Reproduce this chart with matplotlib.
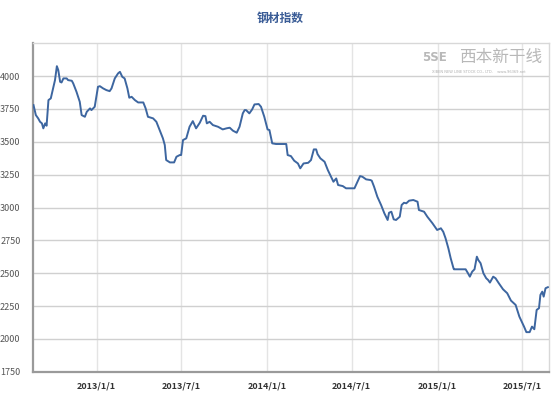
import matplotlib
matplotlib.use('Agg')
import matplotlib.pyplot as plt
import pandas as pd

plt.rcParams['font.family'] = ['Noto Sans CJK SC', 'DejaVu Sans']

# 钢材指数 values
dates = [
    '2012-08-19', '2012-08-24', '2012-08-29', '2012-09-02', '2012-09-06', '2012-09-09',
    '2012-09-13', '2012-09-16', '2012-09-20', '2012-09-25', '2012-09-30', '2012-10-04',
    '2012-10-08', '2012-10-11', '2012-10-15', '2012-10-18', '2012-10-22', '2012-10-29',
    '2012-11-01', '2012-11-09', '2012-11-12', '2012-11-19', '2012-11-26', '2012-11-30',
    '2012-12-07', '2012-12-11', '2012-12-18', '2012-12-21', '2012-12-28', '2013-01-04',
    '2013-01-08', '2013-01-15', '2013-01-22', '2013-01-29', '2013-02-02', '2013-02-09',
    '2013-02-16', '2013-02-20', '2013-02-25', '2013-03-02', '2013-03-08', '2013-03-12',
    '2013-03-17', '2013-03-24', '2013-03-31', '2013-04-11', '2013-04-16', '2013-04-21',
    '2013-05-02', '2013-05-09', '2013-05-16', '2013-05-23', '2013-05-27', '2013-05-30',
    '2013-06-07', '2013-06-16', '2013-06-21', '2013-06-28', '2013-07-01', '2013-07-05',
    '2013-07-12', '2013-07-19', '2013-07-26', '2013-08-02', '2013-08-10', '2013-08-17',
    '2013-08-22', '2013-08-25', '2013-08-31', '2013-09-07', '2013-09-18', '2013-09-28',
    '2013-10-06', '2013-10-13', '2013-10-20', '2013-10-28', '2013-11-03', '2013-11-10',
    '2013-11-14', '2013-11-17', '2013-11-24', '2013-11-30', '2013-12-05', '2013-12-14',
    '2013-12-19', '2013-12-26', '2014-01-02', '2014-01-06', '2014-01-12', '2014-01-20',
    '2014-02-11', '2014-02-14', '2014-02-21', '2014-02-28', '2014-03-08', '2014-03-13',
    '2014-03-20', '2014-03-30', '2014-04-05', '2014-04-11', '2014-04-16', '2014-04-19',
    '2014-04-25', '2014-05-04', '2014-05-11', '2014-05-18', '2014-05-23', '2014-05-29',
    '2014-06-02', '2014-06-12', '2014-06-19', '2014-07-07', '2014-07-12', '2014-07-19',
    '2014-07-24', '2014-08-01', '2014-08-10', '2014-08-13', '2014-08-18', '2014-08-25',
    '2014-09-02', '2014-09-09', '2014-09-16', '2014-09-19', '2014-09-24', '2014-09-29',
    '2014-10-04', '2014-10-12', '2014-10-16', '2014-10-21', '2014-10-26', '2014-11-01',
    '2014-11-10', '2014-11-19', '2014-11-22', '2014-12-03', '2014-12-10', '2014-12-21',
    '2014-12-31', '2015-01-08', '2015-01-13', '2015-01-18', '2015-01-24', '2015-01-29',
    '2015-02-04', '2015-02-05', '2015-03-02', '2015-03-07', '2015-03-11', '2015-03-16',
    '2015-03-21', '2015-03-26', '2015-03-29', '2015-04-03', '2015-04-09', '2015-04-15',
    '2015-04-19', '2015-04-23', '2015-04-30', '2015-05-05', '2015-05-12', '2015-05-21',
    '2015-05-30', '2015-06-07', '2015-06-17', '2015-06-25', '2015-07-05', '2015-07-10',
    '2015-07-17', '2015-07-22', '2015-07-27', '2015-08-01', '2015-08-06', '2015-08-09',
    '2015-08-13', '2015-08-16', '2015-08-20', '2015-08-25',
]
values = [
    3779, 3703, 3678, 3652, 3640, 3602,
    3640, 3622, 3817, 3830, 3906, 3969,
    4075, 4045, 3956, 3951, 3982, 3982,
    3969, 3964, 3944, 3880, 3804, 3703,
    3690, 3728, 3754, 3741, 3766, 3918,
    3923, 3906, 3893, 3885, 3906, 3982,
    4020, 4032, 3994, 3982, 3906, 3835,
    3842, 3817, 3799, 3799, 3754, 3690,
    3678, 3652, 3589, 3526, 3475, 3361,
    3343, 3343, 3386, 3399, 3399, 3513,
    3526, 3614, 3657, 3602, 3645, 3698,
    3695, 3640, 3652, 3627, 3614, 3594,
    3602, 3607, 3584, 3569, 3614, 3716,
    3741, 3741, 3716, 3746, 3784, 3787,
    3766, 3690, 3594, 3589, 3488, 3483,
    3483, 3399, 3391, 3356, 3335, 3298,
    3335, 3340, 3361, 3442, 3442, 3406,
    3374, 3348, 3285, 3234, 3196, 3221,
    3171, 3163, 3146, 3146, 3184, 3239,
    3234, 3214, 3209, 3204, 3158, 3082,
    3019, 2956, 2905, 2960, 2968, 2910,
    2905, 2930, 3019, 3036, 3032, 3052,
    3057, 3044, 2981, 2968, 2930, 2880,
    2829, 2842, 2816, 2766, 2690, 2614,
    2538, 2530, 2530, 2500, 2474, 2512,
    2530, 2626, 2601, 2576, 2500, 2462,
    2449, 2429, 2474, 2462, 2424, 2378,
    2348, 2292, 2259, 2170, 2094, 2052,
    2052, 2094, 2074, 2221, 2234, 2335,
    2360, 2322, 2386, 2394,
]
x_ticks = ['2013-01-01', '2013-07-01', '2014-01-01', '2014-07-01', '2015-01-01', '2015-07-01']
x_tick_labels = ['2013/1/1', '2013/7/1', '2014/1/1', '2014/7/1', '2015/1/1', '2015/7/1']
y_ticks = [1750, 2000, 2250, 2500, 2750, 3000, 3250, 3500, 3750, 4000]

x = pd.to_datetime(dates)

fig = plt.figure(figsize=(5.6, 3.96), dpi=100)
ax = fig.add_axes([0.059, 0.061, 0.921, 0.830])

ax.plot(x, values, color='#3d66a0', lw=1.4, zorder=3)

ax.set_xlim(pd.Timestamp('2012-08-18'), pd.Timestamp('2015-08-27'))
ax.set_ylim(1750, 4250)
ax.set_yticks(y_ticks)
ax.set_yticklabels([str(v) for v in y_ticks], fontsize=6.5, color='#555555')
ax.set_xticks(pd.to_datetime(x_ticks))
ax.set_xticklabels(x_tick_labels, fontsize=6.5, color='#333333', fontweight='bold')
ax.tick_params(length=0, pad=7)
ax.tick_params(axis='y', pad=9)

ax.grid(axis='y', color='#d0d0d0', lw=1)
ax.grid(axis='x', color='#e4e4e4', lw=1)
ax.set_axisbelow(True)

for side in ['top', 'right']:
    ax.spines[side].set_color('#d8d8d8')
    ax.spines[side].set_linewidth(1)
for side in ['left', 'bottom']:
    ax.spines[side].set_color('#9a9a9a')
    ax.spines[side].set_linewidth(1.6)

fig.text(0.5, 0.955, '钢材指数', ha='center', va='center', fontsize=8.5,
         color='#3a5c96', fontweight='bold')

# watermark logo
fig.text(0.893, 0.855, '西本新干线', ha='center', va='center', fontsize=12,
         color='#b8b8b8', style='italic')
fig.text(0.775, 0.855, '5SE', ha='center', va='center', fontsize=8.5,
         color='#b8b8b8', fontweight='bold', family='DejaVu Sans')
fig.text(0.855, 0.818, 'XIBEN NEW LINE STOCK CO., LTD.    www.96369.net',
         ha='center', va='center', fontsize=2.6, color='#b0b0b0', family='DejaVu Sans')

fig.savefig('out.png', dpi=100)
